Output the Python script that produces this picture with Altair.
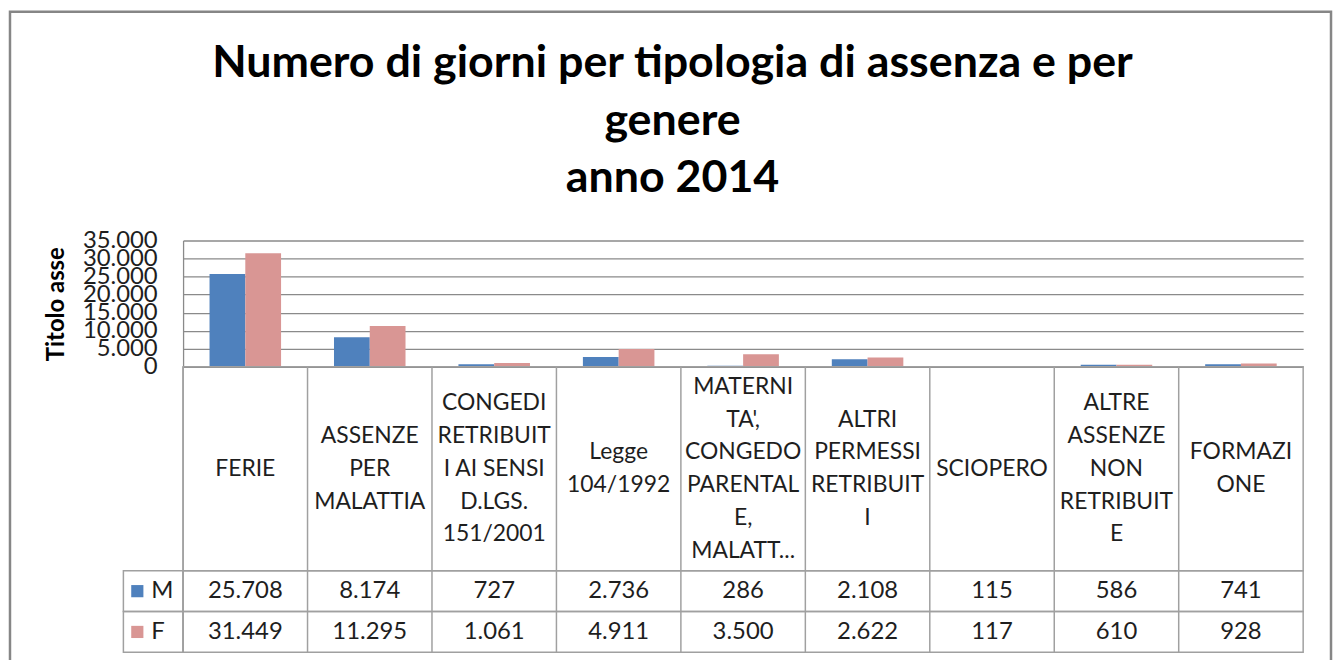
import altair as alt
import pandas as pd

# ---------------- data ----------------
categories = [
    "FERIE",
    "ASSENZE PER MALATTIA",
    "CONGEDI RETRIBUITI AI SENSI D.LGS. 151/2001",
    "Legge 104/1992",
    "MATERNITA', CONGEDO PARENTALE, MALATT...",
    "ALTRI PERMESSI RETRIBUITI",
    "SCIOPERO",
    "ALTRE ASSENZE NON RETRIBUITE",
    "FORMAZIONE",
]
category_lines = [
    ["FERIE"],
    ["ASSENZE", "PER", "MALATTIA"],
    ["CONGEDI", "RETRIBUIT", "I AI SENSI", "D.LGS.", "151/2001"],
    ["Legge", "104/1992"],
    ["MATERNI", "TA',", "CONGEDO", "PARENTAL", "E,", "MALATT..."],
    ["ALTRI", "PERMESSI", "RETRIBUIT", "I"],
    ["SCIOPERO"],
    ["ALTRE", "ASSENZE", "NON", "RETRIBUIT", "E"],
    ["FORMAZI", "ONE"],
]
genders = ["M", "F"]
values_m = [25708, 8174, 727, 2736, 286, 2108, 115, 586, 741]
values_f = [31449, 11295, 1061, 4911, 3500, 2622, 117, 610, 928]
y_ticks = [0, 5000, 10000, 15000, 20000, 25000, 30000, 35000]
title_lines = ["Numero di giorni per tipologia di assenza e per", "genere", "anno 2014"]
axis_title = "Titolo asse"
colors = ["#4F81BD", "#D99694"]

rows = []
for i, c in enumerate(categories):
    rows.append({"categoria": c, "genere": "M", "giorni": values_m[i]})
    rows.append({"categoria": c, "genere": "F", "giorni": values_f[i]})
df = pd.DataFrame(rows)

cat_df = pd.DataFrame({"categoria": categories})
line_rows = []
for c, lines in zip(categories, category_lines):
    n = len(lines)
    for i, t in enumerate(lines):
        line_rows.append({"categoria": c, "riga": t, "pos": (n - 1) / 2 - i})
lines_df = pd.DataFrame(line_rows)
one = pd.DataFrame({"k": [0]})

# ---------------- style ----------------
FONT = "Lato"
TXT = "#1e1e1e"
GRID = "#8a8a8a"
TABLE = "#a0a0a0"
W = 1126
H_PLOT = 127
H_HEAD = 205
H_ROW = 41
LINE_H = 33.0
fmt = "replace(format(datum.{f}, ','), ',', '.')"

x_scale = alt.Scale(domain=categories, paddingInner=0, paddingOuter=0)
color_scale = alt.Scale(domain=genders, range=colors)


def xcat(**kw):
    return alt.X("categoria:N", sort=categories, scale=x_scale, axis=None, **kw)


# ---------------- bar chart ----------------
bars = alt.Chart(df).mark_bar().encode(
    x=xcat(),
    xOffset=alt.XOffset("genere:N", sort=genders,
                        scale=alt.Scale(domain=genders, paddingInner=0, paddingOuter=0.74)),
    y=alt.Y("giorni:Q",
            scale=alt.Scale(domain=[0, 35000], nice=False),
            axis=alt.Axis(values=y_ticks, title=axis_title,
                          labelExpr=fmt.format(f="value"),
                          labelOverlap=False, labelFlush=False,
                          labelFont=FONT, labelFontSize=24, labelColor=TXT,
                          labelPadding=26, ticks=False,
                          domain=True, domainColor=GRID, domainWidth=1.3,
                          grid=True, gridColor=GRID, gridWidth=1.3,
                          titleFont=FONT, titleFontSize=24, titleFontWeight="bold",
                          titleColor="#000000", titlePadding=14)),
    color=alt.Color("genere:N", scale=color_scale, legend=None),
)

frame = alt.Chart(one).mark_rect(fillOpacity=0, stroke="#868686", strokeWidth=2.5).encode(
    x=alt.value(-174), x2=alt.value(1154), y=alt.value(-230), y2=alt.value(424)
)

title = alt.Chart(one).mark_text(
    font=FONT, fontSize=45, fontWeight="bold", color="#000000",
    lineBreak="\n", lineHeight=57.5, align="center", baseline="alphabetic"
).encode(
    x=alt.value(492), y=alt.value(-164), text=alt.value("\n".join(title_lines))
)

top = alt.layer(frame, bars, title).properties(
    width=W, height=H_PLOT, view=alt.ViewBackground(strokeOpacity=0)
)

# ---------------- table: header row ----------------
edges = alt.Chart(cat_df).mark_rule(color=TABLE, strokeWidth=1.5).encode(x=xcat(bandPosition=0))

half = H_HEAD / 2 / LINE_H
head_text = alt.Chart(lines_df).mark_text(
    font=FONT, fontSize=23, color=TXT, align="center", baseline="middle"
).encode(
    x=xcat(),
    y=alt.Y("pos:Q", scale=alt.Scale(domain=[-half, half], nice=False, zero=False), axis=None),
    text="riga:N",
)

header = alt.layer(edges, head_text).properties(
    width=W, height=H_HEAD,
    view=alt.ViewBackground(stroke=TABLE, strokeWidth=1.5)
)


# ---------------- table: value rows ----------------
def value_row(g):
    d = df[df["genere"] == g]
    vals = alt.Chart(d).transform_calculate(
        testo=fmt.format(f="giorni")
    ).mark_text(font=FONT, fontSize=24, color=TXT, align="center", baseline="middle").encode(
        x=xcat(), y=alt.value(H_ROW / 2), text="testo:N"
    )
    cell = alt.Chart(one).mark_rect(fillOpacity=0, stroke=TABLE, strokeWidth=1.5).encode(
        x=alt.value(-60), x2=alt.value(0), y=alt.value(0), y2=alt.value(H_ROW)
    )
    lg = pd.DataFrame({"genere": [g]})
    sq = alt.Chart(lg).mark_square(size=150, opacity=1).encode(
        x=alt.value(-46), y=alt.value(H_ROW / 2),
        color=alt.Color("genere:N", scale=color_scale, legend=None)
    )
    letter = alt.Chart(lg).mark_text(font=FONT, fontSize=24, color=TXT, align="left", baseline="middle").encode(
        x=alt.value(-32), y=alt.value(H_ROW / 2), text="genere:N"
    )
    return alt.layer(edges, vals, cell, sq, letter).properties(
        width=W, height=H_ROW,
        view=alt.ViewBackground(stroke=TABLE, strokeWidth=1.5)
    )


chart = alt.vconcat(top, header, value_row("M"), value_row("F"),
                    spacing=0, bounds="flush").properties(
    padding=0
).resolve_scale(color="shared")

chart.save("out.html", embed_options={"renderer": "svg", "actions": False})
